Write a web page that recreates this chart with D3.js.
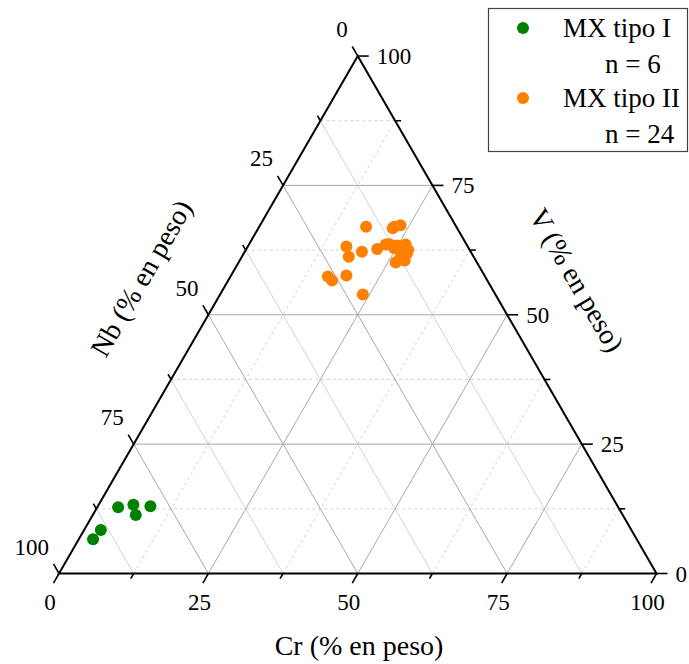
<!DOCTYPE html>
<html>
<head>
<meta charset="utf-8">
<script src="https://cdn.jsdelivr.net/npm/d3@7"></script>
<style>
  body { margin: 0; background: #fff; }
  text { font-family: "Liberation Serif", "DejaVu Serif", serif; fill: #000; }
</style>
</head>
<body>
<svg></svg>
<script>
const svgWidth = 689;
const svgHeight = 664;

// ternary values (% en peso)
const tipo1Cr = [3.5, 5.8, 7.2, 8.8, 2.8, 2.4];
const tipo1V  = [12.8, 13.3, 11.3, 13.0, 8.4, 6.6];
const tipo1Nb = [83.7, 80.9, 81.5, 78.2, 88.8, 91.0];

const tipo2Cr = [17.9, 22.5, 23.5, 16.5, 19.6, 21.9, 23.4, 24.6, 26.2, 27.2, 17.9, 26.3,
                 27.6, 16.3, 17.4, 19.3, 23.9, 24.9, 26.1, 26.4, 26.6, 27.3, 22.9, 22.6];
const tipo2V  = [67.0, 66.7, 67.3, 63.2, 62.2, 62.7, 63.7, 62.9, 63.6, 62.5, 61.2, 60.1,
                 60.5, 57.4, 56.6, 57.6, 53.9, 63.4, 62.9, 61.7, 60.6, 61.9, 63.6, 67.0];
const tipo2Nb = [15.1, 10.8, 9.2, 20.3, 18.2, 15.4, 12.9, 12.5, 10.2, 10.3, 20.9, 13.6,
                 11.9, 26.3, 26.0, 23.1, 22.2, 11.7, 11.0, 11.9, 12.8, 10.8, 13.5, 10.4];

const majorTicks = [0, 25, 50, 75, 100];
const minorTicks = [12.5, 37.5, 62.5, 87.5];
const gridMajor = [25, 50, 75];

const seriesNames = ['MX tipo I', 'MX tipo II'];
const seriesCounts = ['n = 6', 'n = 24'];
const seriesColors = ['#008000', '#ff8000'];

const left = 59, right = 656.5, bottom = 573.5;
const triH = (right - left) * Math.sqrt(3) / 2;

const svg = d3.select('svg').attr('width', svgWidth).attr('height', svgHeight);

// x along the base, y up the height
const xScale = d3.scaleLinear().domain([0, 100]).range([left, right]);
const yScale = d3.scaleLinear().domain([0, 100]).range([bottom, bottom - triH]);

// (cr, v, nb) -> pixel
const pt = (cr, v, nb) => {
    const s = cr + v + nb;
    cr = cr * 100 / s; v = v * 100 / s;
    return [xScale(cr + v / 2), yScale(v)];
};

const lineGen = d3.line();

const drawGrid = (vals, color, dash) => {
    const g = svg.append('g').attr('fill', 'none').attr('stroke', color).attr('stroke-width', 1);
    vals.forEach(t => {
        // constant V (horizontal)
        g.append('path').attr('d', lineGen([pt(0, t, 100 - t), pt(100 - t, t, 0)]))
            .attr('stroke-dasharray', dash.v);
        // constant Cr
        g.append('path').attr('d', lineGen([pt(t, 0, 100 - t), pt(t, 100 - t, 0)]))
            .attr('stroke-dasharray', dash.cr);
        // constant Nb
        g.append('path').attr('d', lineGen([pt(100 - t, 0, t), pt(0, 100 - t, t)]))
            .attr('stroke-dasharray', dash.nb);
    });
};

drawGrid(minorTicks, '#d2d2d2', {v: '3,3', cr: '3,3', nb: null});
drawGrid(gridMajor, '#a8a8a8', {v: null, cr: null, nb: null});

// triangle frame
svg.append('path')
    .attr('d', lineGen([pt(0, 0, 100), pt(100, 0, 0), pt(0, 100, 0)]) + 'Z')
    .attr('fill', 'none').attr('stroke', '#000').attr('stroke-width', 2)
    .attr('stroke-linejoin', 'miter');

// ticks
const tickG = svg.append('g').attr('stroke', '#000').attr('stroke-width', 1.6);
const sq = Math.sqrt(3) / 2;
const addTick = (p, dir, len) => {
    tickG.append('line')
        .attr('x1', p[0]).attr('y1', p[1])
        .attr('x2', p[0] + dir[0] * len).attr('y2', p[1] + dir[1] * len);
};
const allTicks = majorTicks.map(t => [t, 11]).concat(minorTicks.map(t => [t, 6]));
allTicks.forEach(([t, len]) => {
    addTick(pt(t, 0, 100 - t), [-0.5, sq], len);      // Cr bottom
    addTick(pt(100 - t, t, 0), [1, 0], len);          // V right
    addTick(pt(0, 100 - t, t), [-0.5, -sq], len);     // Nb left
});

// tick labels
const labG = svg.append('g').attr('font-size', 23);
majorTicks.forEach(t => {
    const b = pt(t, 0, 100 - t);
    labG.append('text').attr('x', b[0] - 9).attr('y', b[1] + 28).attr('dy', '0.35em')
        .attr('text-anchor', 'middle').text(t);
    const r = pt(100 - t, t, 0);
    labG.append('text').attr('x', r[0] + 19).attr('y', r[1]).attr('dy', '0.35em')
        .attr('text-anchor', 'start').text(t);
    const l = pt(0, 100 - t, t);
    labG.append('text').attr('x', l[0] - 10).attr('y', l[1] - 27).attr('dy', '0.35em')
        .attr('text-anchor', 'end').text(t);
});

// axis titles
svg.append('text').attr('x', 359).attr('y', 645).attr('dy', '0.35em')
    .attr('text-anchor', 'middle').attr('font-size', 28).text('Cr (% en peso)');
svg.append('text').attr('transform', 'translate(141,278) rotate(-60)').attr('dy', '0.35em')
    .attr('text-anchor', 'middle').attr('font-size', 28).text('Nb (% en peso)');
svg.append('text').attr('transform', 'translate(577,280) rotate(60)').attr('dy', '0.35em')
    .attr('text-anchor', 'middle').attr('font-size', 28).text('V (% en peso)');

// points
const series = [
    {cr: tipo1Cr, v: tipo1V, nb: tipo1Nb},
    {cr: tipo2Cr, v: tipo2V, nb: tipo2Nb}
];
series.forEach((s, i) => {
    const data = s.cr.map((c, j) => pt(c, s.v[j], s.nb[j]));
    svg.append('g').selectAll('circle')
        .data(data)
        .enter()
        .append('circle')
        .attr('cx', d => d[0])
        .attr('cy', d => d[1])
        .attr('r', 6)
        .attr('fill', seriesColors[i]);
});

// legend
const leg = svg.append('g');
leg.append('rect').attr('x', 488.5).attr('y', 8.5).attr('width', 199).attr('height', 143)
    .attr('fill', '#fff').attr('stroke', '#444').attr('stroke-width', 1.2);
seriesNames.forEach((name, i) => {
    const y0 = 28 + i * 70;
    leg.append('circle').attr('cx', 523).attr('cy', y0).attr('r', 6).attr('fill', seriesColors[i]);
    leg.append('text').attr('x', 563).attr('y', y0).attr('dy', '0.35em')
        .attr('font-size', 27).text(name);
    leg.append('text').attr('x', 605).attr('y', y0 + 36).attr('dy', '0.35em')
        .attr('font-size', 27).text(seriesCounts[i]);
});
</script>
</body>
</html>
